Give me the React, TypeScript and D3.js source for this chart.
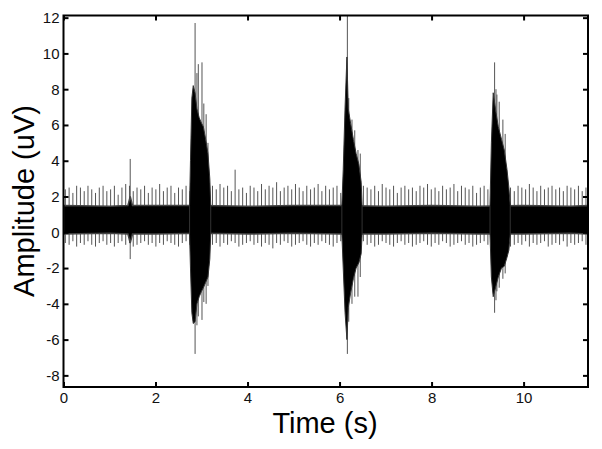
import React, { useEffect, useRef } from 'react';
import * as d3 from 'd3';

const width = 602;
const height = 449;
const plot = { left: 63.5, right: 588, top: 15.5, bottom: 387 };

const xTicks = [0, 2, 4, 6, 8, 10];
const yTicks = [-8, -6, -4, -2, 0, 2, 4, 6, 8, 10, 12];

// background noise band (uV), read roughly every second
const bandTimes = [0, 1, 1.4, 1.45, 1.5, 2, 3, 4, 5, 6, 7, 8, 9, 10, 11, 11.4];
const bandHigh = [1.5, 1.45, 1.5, 2.0, 1.5, 1.5, 1.5, 1.45, 1.5, 1.5, 1.45, 1.5, 1.45, 1.5, 1.45, 1.5];
const bandLow = [-0.1, -0.05, -0.1, -0.6, -0.1, -0.1, -0.05, -0.1, -0.05, -0.1, -0.1, -0.05, -0.1, -0.1, -0.05, -0.1];

// periodic artefact spikes, one per beat
const beatStart = 0.04;
const beatPeriod = 0.082;
const beatHigh = [
  2.4, 2.5, 2.2, 2.6, 2.5, 2.3, 2.6, 2.4, 2.2, 2.5,
  2.6, 2.3, 2.4, 2.6, 2.1, 2.5, 2.7, 2.6, 2.3, 2.5,
  2.4, 2.6, 2.2, 2.5, 2.4, 2.7, 2.3, 2.5, 2.6, 2.2,
  2.5, 2.4, 2.6, 2.3, 2.5, 2.6, 2.4, 2.2, 2.5, 2.6,
  2.4, 2.7, 2.5, 2.6, 2.3, 3.5, 2.4, 2.5, 2.2, 2.6,
  2.5, 2.3, 2.7, 2.4, 2.6, 2.5, 2.8, 2.3, 2.5, 2.6,
  2.4, 2.7, 2.5, 2.3, 2.6, 2.4, 2.5, 2.7, 2.3, 2.6,
  2.4, 2.5, 2.6, 2.2, 2.5, 2.4, 2.7, 2.5, 2.3, 2.6,
  2.5, 2.4, 2.6, 2.3, 2.7, 2.5, 2.4, 2.6, 2.2, 2.5,
  2.6, 2.4, 2.5, 2.3, 2.6, 2.5, 2.7, 2.4, 2.5, 2.3,
  2.6, 2.4, 2.5, 2.7, 2.3, 2.6, 2.5, 2.4, 2.6, 2.2,
  2.5, 2.6, 2.4, 2.3, 2.7, 2.5, 2.6, 2.4, 2.5, 2.3,
  2.6, 2.5, 2.4, 2.7, 2.5, 2.3, 2.6, 2.4, 2.5, 2.6,
  2.4, 2.5, 2.3, 2.6, 2.5, 2.4, 2.6, 2.3, 2.5,
];
const beatLow = [
  -0.6, -0.7, -0.5, -0.8, -0.6, -0.7, -0.5, -0.7, -0.8, -0.6,
  -0.5, -0.7, -0.6, -0.8, -0.6, -0.5, -0.7, -0.6, -0.8, -0.7,
  -0.6, -0.5, -0.7, -0.6, -0.8, -0.6, -0.7, -0.5, -0.6, -0.7,
  -0.8, -0.6, -0.5, -0.7, -0.6, -0.8, -0.7, -0.6, -0.5, -0.7,
  -0.6, -0.8, -0.6, -0.7, -0.5, -0.6, -0.8, -0.7, -0.6, -0.5,
  -0.7, -0.6, -0.8, -0.6, -0.7, -0.9, -0.6, -0.7, -0.5, -0.6,
  -0.8, -0.7, -0.6, -0.5, -0.7, -0.8, -0.6, -0.7, -0.5, -0.6,
  -0.7, -0.8, -0.6, -0.5, -0.7, -0.6, -0.8, -0.7, -0.6, -0.5,
  -0.7, -0.6, -0.8, -0.7, -0.5, -0.6, -0.7, -0.8, -0.6, -0.5,
  -0.7, -0.6, -0.8, -0.7, -0.6, -0.5, -0.7, -0.8, -0.6, -0.7,
  -0.5, -0.6, -0.8, -0.7, -0.6, -0.5, -0.7, -0.6, -0.8, -0.7,
  -0.6, -0.5, -0.7, -0.8, -0.6, -0.7, -0.5, -0.6, -0.8, -0.7,
  -0.6, -0.7, -0.5, -0.8, -0.6, -0.7, -0.6, -0.5, -0.8, -0.7,
  -0.6, -0.7, -0.5, -0.8, -0.6, -0.7, -0.6, -0.5, -0.7,
];

// dense cores of the three bursts
const burst1Times = [2.74, 2.76, 2.79, 2.82, 2.86, 2.9, 2.95, 3.0, 3.04, 3.09, 3.14, 3.18, 3.2];
const burst1High = [1.5, 4.0, 7.5, 8.2, 7.8, 6.9, 6.4, 6.1, 5.9, 5.2, 4.4, 3.0, 1.5];
const burst1Low = [-0.1, -2.0, -4.5, -5.1, -5.0, -4.0, -3.6, -3.3, -3.1, -2.8, -2.5, -1.5, -0.1];

const burst2Times = [6.05, 6.08, 6.12, 6.16, 6.19, 6.24, 6.3, 6.36, 6.42, 6.47, 6.49];
const burst2High = [1.5, 3.5, 7.0, 9.8, 6.9, 6.1, 5.2, 4.4, 3.8, 2.8, 1.5];
const burst2Low = [-0.1, -2.0, -4.5, -6.0, -4.2, -3.4, -2.6, -2.0, -1.7, -1.2, -0.1];

const burst3Times = [9.27, 9.3, 9.34, 9.4, 9.45, 9.52, 9.58, 9.64, 9.68, 9.71];
const burst3High = [1.5, 5.0, 7.8, 6.7, 5.9, 5.2, 4.6, 3.5, 2.5, 1.5];
const burst3Low = [-0.1, -2.5, -3.6, -3.0, -2.5, -2.0, -1.9, -1.4, -1.0, -0.1];

// single tall excursions
const spikeTimes = [1.45, 2.86, 2.9, 2.93, 3.01, 3.05, 3.1, 3.14, 6.17, 6.2, 6.27, 6.33, 6.4, 6.45, 9.37, 9.4, 9.42, 9.47, 9.55, 9.6];
const spikeHigh = [4.1, 11.7, 8.9, 9.4, 9.5, 7.2, 6.6, 5.0, 12.2, 7.5, 6.3, 5.7, 4.6, 4.4, 9.5, 8.0, 7.7, 7.3, 6.3, 5.5];
const spikeLow = [-1.5, -6.8, -5.2, -4.7, -4.9, -3.9, -4.0, -3.0, -6.8, -5.0, -4.0, -3.6, -3.6, -2.5, -4.5, -3.8, -3.3, -3.1, -2.6, -2.3];

const font = "Arial, 'Liberation Sans', sans-serif";

export default function App() {
  const leftRef = useRef<SVGGElement>(null);
  const rightRef = useRef<SVGGElement>(null);
  const topRef = useRef<SVGGElement>(null);
  const bottomRef = useRef<SVGGElement>(null);

  const x = d3.scaleLinear().domain([0, 11.4]).range([plot.left, plot.right]);
  const y = d3.scaleLinear().domain([-8.65, 12.12]).range([plot.bottom, plot.top]);

  useEffect(() => {
    const fmt = (d: any) => String(d);
    d3.select(leftRef.current!)
      .call(d3.axisLeft(y).tickValues(yTicks).tickSizeInner(-5).tickSizeOuter(0).tickPadding(4).tickFormat(fmt));
    d3.select(rightRef.current!)
      .call(d3.axisRight(y).tickValues(yTicks).tickSizeInner(-5).tickSizeOuter(0).tickFormat(() => ''));
    d3.select(topRef.current!)
      .call(d3.axisTop(x).tickValues(xTicks).tickSizeInner(-5).tickSizeOuter(0).tickFormat(() => ''));
    d3.select(bottomRef.current!)
      .call(d3.axisBottom(x).tickValues(xTicks).tickSizeInner(-5).tickSizeOuter(0).tickPadding(5).tickFormat(fmt));

    [leftRef, rightRef, topRef, bottomRef].forEach((r) => {
      const g = d3.select(r.current!);
      g.select('.domain').remove();
      g.selectAll('.tick line').attr('stroke', '#000').attr('stroke-width', 2);
      g.selectAll('.tick text').attr('fill', '#111').style('font-size', '15px').style('font-family', font);
    });
  }, []);

  const band = d3
    .area<number>()
    .x((_, i) => x(bandTimes[i]))
    .y0((_, i) => y(bandLow[i]))
    .y1((_, i) => y(bandHigh[i]))(bandTimes);

  const bursts = [
    [burst1Times, burst1High, burst1Low],
    [burst2Times, burst2High, burst2Low],
    [burst3Times, burst3High, burst3Low],
  ].map(([ts, hi, lo]) =>
    d3
      .area<number>()
      .x((_, i) => x(ts[i]))
      .y0((_, i) => y(lo[i]))
      .y1((_, i) => y(hi[i]))(ts)
  );

  return (
    <svg width={width} height={height} style={{ position: 'absolute', left: 0, top: 0, background: '#fff' }}>
      <defs>
        <clipPath id="plotClip">
          <rect x={plot.left} y={plot.top} width={plot.right - plot.left} height={plot.bottom - plot.top} />
        </clipPath>
      </defs>
      <g clipPath="url(#plotClip)">
        {beatHigh.map((h, i) => {
          const bx = x(beatStart + i * beatPeriod);
          return (
            <line key={'b' + i} x1={bx} x2={bx} y1={y(beatLow[i])} y2={y(h)} stroke="#555" strokeWidth={1} />
          );
        })}
        {spikeTimes.map((t, i) => (
          <line key={'s' + i} x1={x(t)} x2={x(t)} y1={y(spikeLow[i])} y2={y(spikeHigh[i])} stroke="#555" strokeWidth={1} />
        ))}
        <path d={band || ''} fill="#000" stroke="#444" strokeWidth={1.5} />
        {bursts.map((d, i) => (
          <path key={'c' + i} d={d || ''} fill="#000" stroke="#333" strokeWidth={1} />
        ))}
      </g>
      <rect
        x={plot.left}
        y={plot.top}
        width={plot.right - plot.left}
        height={plot.bottom - plot.top}
        fill="none"
        stroke="#000"
        strokeWidth={2}
      />
      <g ref={leftRef} transform={`translate(${plot.left},0)`} />
      <g ref={rightRef} transform={`translate(${plot.right},0)`} />
      <g ref={topRef} transform={`translate(0,${plot.top})`} />
      <g ref={bottomRef} transform={`translate(0,${plot.bottom})`} />
      <text x={325} y={433} textAnchor="middle" fontFamily={font} fontSize={29} fill="#000">
        Time (s)
      </text>
      <text
        transform="translate(34,201) rotate(-90)"
        textAnchor="middle"
        fontFamily={font}
        fontSize={29}
        fill="#000"
      >
        Amplitude (uV)
      </text>
    </svg>
  );
}
